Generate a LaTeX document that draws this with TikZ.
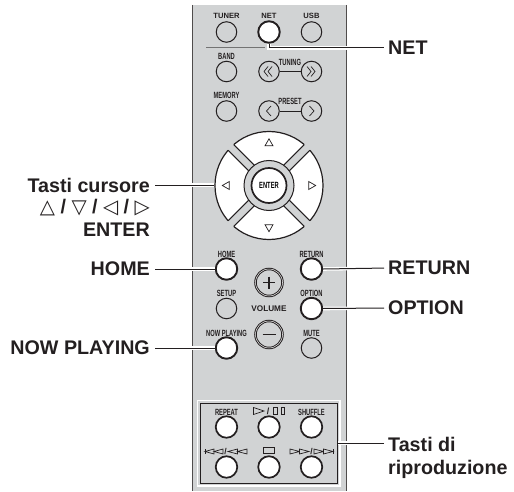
\documentclass[tikz,border=0pt]{standalone}
\usepackage{fontspec}
\usepackage{graphicx}
\setmainfont{Liberation Sans}
\newfontfamily\symfont{DejaVu Sans}
\definecolor{panel}{HTML}{D1D3D4}
\definecolor{ink}{HTML}{231F20}
\newcommand{\narrowlbl}[1]{\scalebox{0.64}[1]{\bfseries\fontsize{9}{10}\selectfont #1}}
\tikzset{
  thinbtn/.style={circle,draw=ink,line width=1pt,fill=panel,minimum size=20.5pt,inner sep=0pt},
  hotbtn/.style={circle,draw=ink,line width=1.9pt,fill=white,minimum size=21.5pt,inner sep=0pt},
  rcbtn/.style={circle,draw=ink,line width=1.7pt,fill=white,minimum size=21.5pt,inner sep=0pt},
  volbtn/.style={circle,draw=ink,line width=1pt,double=white,double distance=0.5pt,fill=panel,minimum size=27pt,inner sep=0pt},
  small/.style={inner sep=0pt,text=ink,font=\bfseries},
  callout/.style={font=\bfseries\fontsize{19.7}{23}\selectfont,inner sep=0pt,text=ink},
  lead/.style={draw=ink,line width=1pt,preaction={draw=white,line width=3.6pt}},
  sym/.style={draw=ink,line width=0.7pt,fill=white,line join=miter},
  chev/.style={draw=ink,line width=0.7pt,line join=round},
  link/.style={draw=ink,line width=0.8pt}
}
\begin{document}
\begin{tikzpicture}[x=1pt,y=-1pt]
\useasboundingbox (0,0) rectangle (514,492);
% panel
\fill[panel] (192,5) rectangle (346,491);
\draw[ink!80,line width=0.9pt] (192,5) -- (192,491) (346,5) -- (346,491);
% separator
\draw[black!55,line width=1.2pt] (206,47.5) -- (265,47.5);
% top buttons
\node[thinbtn] (tuner) at (226.5,32) {};
\node[hotbtn] (net) at (269,32) {};
\node[thinbtn] (usb) at (311.5,32) {};
\node[small] (ltuner) at (226.5,16) {\fontsize{7.6}{8}\selectfont TUNER};
\node[small] (lnet) at (269,16) {\fontsize{7.6}{8}\selectfont NET};
\node[small] (lusb) at (311.5,16) {\fontsize{7.6}{8}\selectfont USB};
\node[thinbtn] (band) at (226.5,71.5) {};
\node[small] at (226.5,56) {\narrowlbl{BAND}};
\node[thinbtn] (tl) at (269,71.5) {};
\node[thinbtn] (tr) at (311.5,71.5) {};
\draw[link] (tl) -- (tr);
\draw[chev] (268,66.5) -- (264,71.5) -- (268,76.5) (272,66.5) -- (268,71.5) -- (272,76.5);
\draw[chev] (307,66.5) -- (311,71.5) -- (307,76.5) (311,66.5) -- (315,71.5) -- (311,76.5);
\node[small] at (290,62) {\narrowlbl{TUNING}};
\node[thinbtn] (memory) at (226.5,111) {};
\node[small] at (226.5,95.5) {\narrowlbl{MEMORY}};
\node[thinbtn] (pl) at (269,111) {};
\node[thinbtn] (pr) at (311.5,111) {};
\draw[link] (pl) -- (pr);
\draw[chev] (271,106) -- (266.5,111) -- (271,116);
\draw[chev] (309.5,106) -- (314,111) -- (309.5,116);
\node[small] at (290,101.5) {\narrowlbl{PRESET}};
% d-pad
\coordinate (dc) at (269,185.5);
\node[circle,draw=ink,line width=1.2pt,fill=white,minimum size=108pt,inner sep=0pt] (pad) at (dc) {};
\foreach \a in {45,135,225,315}{
  \begin{scope}[shift={(dc)},rotate=\a]
    \fill[panel] (23,-4) rectangle (55.5,4);
    \draw[ink,line width=1pt] (23,-4) -- (53.9,-4) (23,4) -- (53.9,4);
  \end{scope}
}
\node[circle,draw=ink,line width=1pt,fill=panel,minimum size=50pt,inner sep=0pt] (ring) at (dc) {};
\node[circle,draw=ink,line width=1.7pt,fill=white,minimum size=35pt,inner sep=0pt] (enter) at (dc) {\narrowlbl{ENTER}};
\draw[sym] (269,142.5) ++(-4,3.3) -- ++(8,0) -- ++(-4,-7) -- cycle;
\draw[sym] (269,228) ++(-4,-3.3) -- ++(8,0) -- ++(-4,7) -- cycle;
\draw[sym] (226,185.5) ++(3.3,-4) -- ++(0,8) -- ++(-7,-4) -- cycle;
\draw[sym] (312,185.5) ++(-3.3,-4) -- ++(0,8) -- ++(7,-4) -- cycle;
% lower buttons
\node[hotbtn] (home) at (226.5,269) {};
\node[small] at (226.5,254) {\narrowlbl{HOME}};
\node[thinbtn] (setup) at (226.5,308.5) {};
\node[small] at (226.5,293) {\narrowlbl{SETUP}};
\node[hotbtn] (nowp) at (226.5,348) {};
\node[small] at (226.5,333) {\narrowlbl{NOW PLAYING}};
\node[hotbtn] (return) at (311.5,269) {};
\node[small] at (311.5,254) {\narrowlbl{RETURN}};
\node[hotbtn] (option) at (311.5,308.5) {};
\node[small] at (311.5,293) {\narrowlbl{OPTION}};
\node[thinbtn] (mute) at (311.5,348) {};
\node[small] at (311.5,333) {\narrowlbl{MUTE}};
\node[volbtn] (volp) at (269,282.5) {};
\draw[ink,line width=1.5pt] (263,282.5) -- (275,282.5) (269,276.5) -- (269,288.5);
\node[volbtn] (volm) at (269,334.5) {};
\draw[ink,line width=1.9pt] (262.5,334.5) -- (275.5,334.5);
\node[small] at (269,309) {\fontsize{8.2}{9}\selectfont VOLUME};
% playback box
\draw[white,line width=1.4pt] (197.5,400.5) rectangle (340,486);
\node[draw=ink,line width=1pt,fill=panel,minimum width=137pt,minimum height=80pt,inner sep=0pt] (pbox) at (268.5,443) {};
\node[rcbtn] (repeat) at (226.5,427) {};
\node[rcbtn] (play) at (269,427) {};
\node[rcbtn] (shuffle) at (311.5,427) {};
\node[rcbtn] (prev) at (226.5,467) {};
\node[rcbtn] (stop) at (269,467) {};
\node[rcbtn] (next) at (311.5,467) {};
\node[small] at (226.5,412) {\narrowlbl{REPEAT}};
\node[small] at (311.5,412) {\narrowlbl{SHUFFLE}};
% play / pause
\draw[sym,fill=panel] (253.5,407.5) -- (264,411) -- (253.5,414.5) -- cycle;
\node[small] at (268,411) {\fontsize{9}{9}\selectfont /};
\draw[sym,fill=panel] (273.5,407.5) rectangle (277,414.5) (281,407.5) rectangle (284.5,414.5);
% stop
\draw[sym,fill=panel] (263,447.5) rectangle (274,453);
% prev
\draw[ink,line width=0.7pt] (205,449) -- (205,454);
\draw[sym,fill=panel] (205,451.5) -- (214,449) -- (214,454) -- cycle;
\draw[sym,fill=panel] (214,451.5) -- (223,449) -- (223,454) -- cycle;
\node[small] at (225.5,451.5) {\fontsize{8.5}{9}\selectfont /};
\draw[sym,fill=panel] (228,451.5) -- (237.5,449) -- (237.5,454) -- cycle;
\draw[sym,fill=panel] (237.5,451.5) -- (247,449) -- (247,454) -- cycle;
% next
\draw[sym,fill=panel] (290,449) -- (299.5,451.5) -- (290,454) -- cycle;
\draw[sym,fill=panel] (299.5,449) -- (309,451.5) -- (299.5,454) -- cycle;
\node[small] at (311.5,451.5) {\fontsize{8.5}{9}\selectfont /};
\draw[sym,fill=panel] (314,449) -- (323.5,451.5) -- (314,454) -- cycle;
\draw[sym,fill=panel] (323.5,449) -- (333,451.5) -- (323.5,454) -- cycle;
\draw[ink,line width=0.7pt] (333,449) -- (333,454);
% callout labels
\node[callout,anchor=west] (cnet) at (388,48) {NET};
\node[callout,anchor=east] (ccur) at (150,185) {Tasti cursore};
\node[callout,anchor=east] (ctri) at (150,207.5) {{\symfont △} / {\symfont ▽} / {\symfont ◁} / {\symfont ▷}};
\node[callout,anchor=east] (cent) at (150,230) {ENTER};
\node[callout,anchor=east] (chome) at (150,269) {HOME};
\node[callout,anchor=east] (cnow) at (150,348) {NOW PLAYING};
\node[callout,anchor=west] (cret) at (388,268) {RETURN};
\node[callout,anchor=west] (copt) at (388,308) {OPTION};
\node[callout,anchor=west,align=left] (cpb) at (388,458) {Tasti di\\riproduzione};
% leaders
\coordinate (netbend) at (net.south |- cnet.west);
\draw[lead] (net.south) -- (netbend) -- ([xshift=-4pt]cnet.west);
\draw[lead,shorten <=5pt] (ccur.east) -- (pad.west |- ccur.east);
\draw[lead,shorten <=5pt] (chome.east) -- (home.west);
\draw[lead,shorten <=5pt] (cnow.east) -- (nowp.west);
\draw[lead,shorten <=4pt] (cret.west) -- (return.east);
\draw[lead,shorten <=4pt] (copt.west) -- (option.east);
\draw[lead] ([xshift=-4pt]cpb.west |- pbox.east) -- (pbox.east);
\end{tikzpicture}
\end{document}
